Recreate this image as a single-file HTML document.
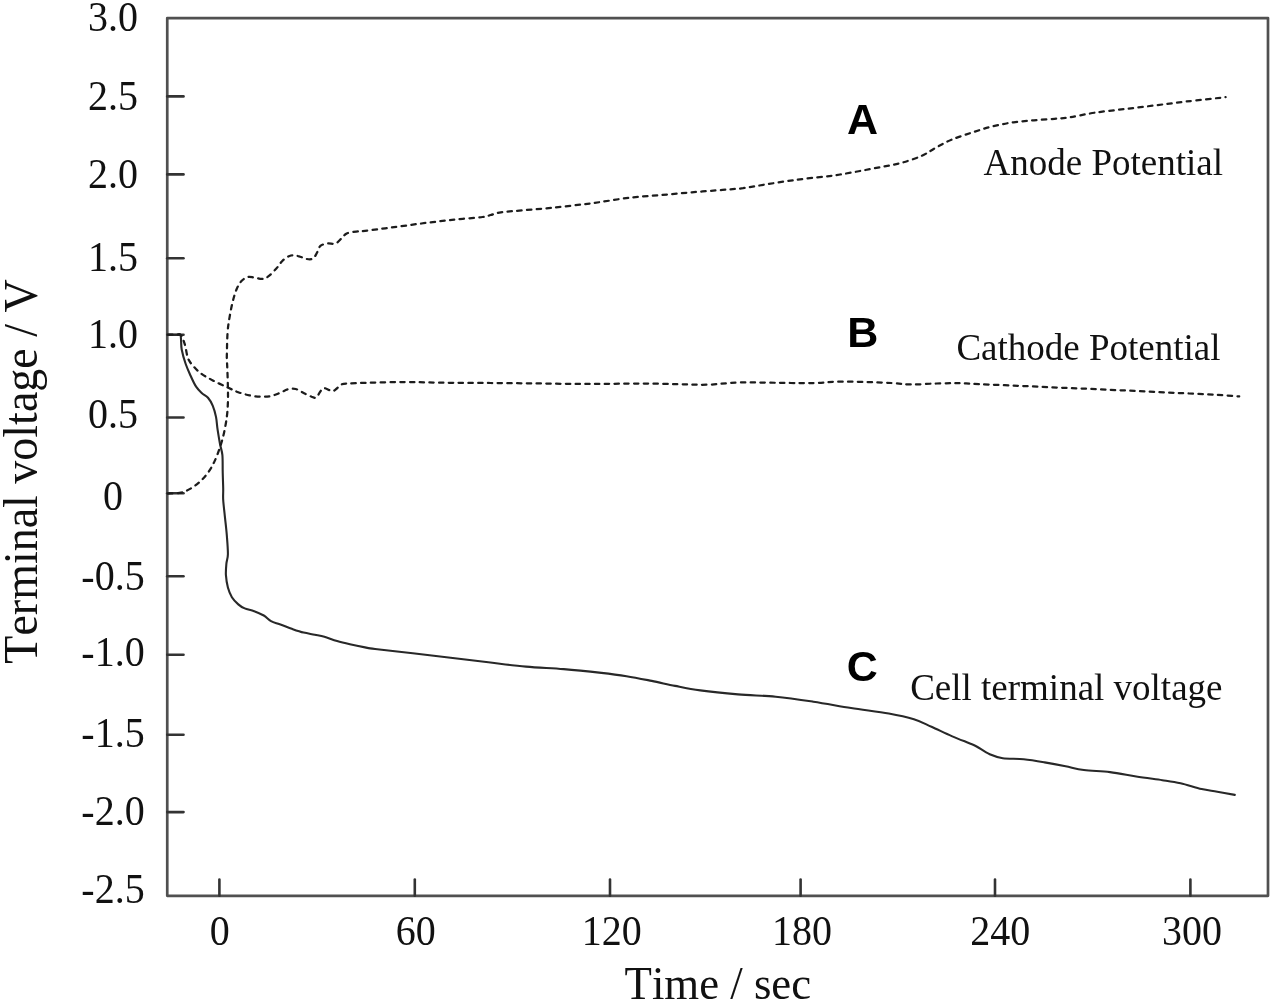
<!DOCTYPE html>
<html lang="en"><head><meta charset="utf-8"><title>Terminal voltage vs time</title>
<style>
html,body{margin:0;padding:0;background:#fff}
svg{display:block;filter:blur(0.6px)}
.t{font-family:"Liberation Serif","Times New Roman",serif;fill:#111;font-kerning:none}
.b{font-family:"Liberation Sans",Arial,sans-serif;font-weight:bold;fill:#000}
</style></head><body>
<svg width="1273" height="1004" viewBox="0 0 1273 1004">
<rect width="1273" height="1004" fill="#fff"/>
<rect x="167.25" y="18.1" width="1100.75" height="877.6999999999999" fill="none" stroke="#505050" stroke-width="2.7" stroke-linejoin="round"/>
<g stroke="#333" stroke-width="2.6" stroke-linecap="round">
<line x1="167.25" y1="96.4" x2="183.5" y2="96.4"/>
<line x1="167.25" y1="174.4" x2="183.5" y2="174.4"/>
<line x1="167.25" y1="258.2" x2="183.5" y2="258.2"/>
<line x1="167.25" y1="334.7" x2="183.5" y2="334.7"/>
<line x1="167.25" y1="417.5" x2="183.5" y2="417.5"/>
<line x1="167.25" y1="493.3" x2="183.5" y2="493.3"/>
<line x1="167.25" y1="576.2" x2="183.5" y2="576.2"/>
<line x1="167.25" y1="654.8" x2="183.5" y2="654.8"/>
<line x1="167.25" y1="734.7" x2="183.5" y2="734.7"/>
<line x1="167.25" y1="812.1" x2="183.5" y2="812.1"/>
<line x1="219.4" y1="895.8" x2="219.4" y2="879.5"/>
<line x1="414.8" y1="895.8" x2="414.8" y2="879.5"/>
<line x1="610" y1="895.8" x2="610" y2="879.5"/>
<line x1="800.6" y1="895.8" x2="800.6" y2="879.5"/>
<line x1="995" y1="895.8" x2="995" y2="879.5"/>
<line x1="1190.4" y1="895.8" x2="1190.4" y2="879.5"/>
</g>
<g class="t" font-size="40" text-anchor="middle">
<text transform="translate(113,31.4) scale(1,1.07)">3.0</text>
<text transform="translate(113,109.7) scale(1,1.07)">2.5</text>
<text transform="translate(113,187.6) scale(1,1.07)">2.0</text>
<text transform="translate(113,271.2) scale(1,1.07)">1.5</text>
<text transform="translate(113,347.6) scale(1,1.07)">1.0</text>
<text transform="translate(113,427.7) scale(1,1.07)">0.5</text>
<text transform="translate(113,509.9) scale(1,1.07)">0</text>
<text transform="translate(113,589.6) scale(1,1.07)">-0.5</text>
<text transform="translate(113,666.3) scale(1,1.07)">-1.0</text>
<text transform="translate(113,747.2) scale(1,1.07)">-1.5</text>
<text transform="translate(113,825.3) scale(1,1.07)">-2.0</text>
<text transform="translate(113,903.2) scale(1,1.07)">-2.5</text>
<text transform="translate(219.8,944.8) scale(1,1.07)">0</text>
<text transform="translate(415.8,944.8) scale(1,1.07)">60</text>
<text transform="translate(611.8,944.8) scale(1,1.07)">120</text>
<text transform="translate(802,944.8) scale(1,1.07)">180</text>
<text transform="translate(1000.3,944.8) scale(1,1.07)">240</text>
<text transform="translate(1192,944.8) scale(1,1.07)">300</text>
</g>
<text class="t" font-size="44.8" text-anchor="middle" transform="translate(717.8,998.6) scale(1,1.05)">Time / sec</text>
<text class="t" font-size="46" text-anchor="middle" transform="translate(36.6,471.5) rotate(-90) scale(1,1.055)">Terminal voltage / V</text>
<path d="M168.0,334.7C169.3,334.7 173.9,334.7 176.0,334.8C178.1,334.9 179.6,332.8 180.5,335.2C181.4,337.6 180.8,344.7 181.7,349.5C182.6,354.3 184.2,359.7 185.7,364.0C187.2,368.3 188.8,371.7 190.5,375.5C192.2,379.3 194.2,383.8 196.1,386.7C198.0,389.6 199.7,391.1 201.7,393.0C203.7,394.9 206.2,395.7 208.0,397.8C209.8,399.9 211.5,402.6 212.8,405.8C214.1,409.0 215.2,412.9 216.0,416.9C216.8,420.9 216.9,425.2 217.6,429.7C218.3,434.2 219.2,439.8 220.0,444.0C220.8,448.2 222.0,450.7 222.4,455.2C222.8,459.7 222.6,465.5 222.7,471.1C222.8,476.7 223.1,483.8 223.2,488.6C223.3,493.4 222.9,495.4 223.2,500.0C223.5,504.6 224.2,510.0 224.8,515.9C225.4,521.8 226.3,528.7 226.8,535.1C227.3,541.5 228.0,549.4 227.9,554.2C227.8,559.0 226.7,560.2 226.4,563.7C226.1,567.2 225.7,570.9 225.9,574.9C226.2,578.9 226.9,583.9 227.9,587.6C228.9,591.3 230.2,594.4 231.9,597.2C233.6,600.0 236.2,602.5 238.3,604.4C240.4,606.3 242.0,607.3 244.7,608.4C247.3,609.5 251.0,610.0 254.2,611.2C257.4,612.4 261.0,613.9 263.8,615.5C266.6,617.1 268.4,619.6 271.0,621.1C273.6,622.6 276.1,623.0 279.7,624.3C283.3,625.6 288.5,627.7 292.5,629.1C296.5,630.5 299.9,631.7 303.6,632.6C307.3,633.5 311.3,634.0 314.8,634.7C318.3,635.4 320.7,635.7 324.4,636.7C328.1,637.8 332.9,639.8 337.1,641.0C341.4,642.2 345.2,643.1 349.9,644.2C354.5,645.3 360.8,646.6 365.0,647.4C369.2,648.2 367.1,648.0 375.1,649.0C383.1,650.0 400.2,651.8 412.8,653.3C425.4,654.8 438.0,656.3 450.6,657.8C463.2,659.3 475.7,660.8 488.3,662.3C500.9,663.8 513.4,665.5 526.0,666.6C538.6,667.7 551.1,668.1 563.7,669.1C576.3,670.1 590.9,671.7 601.4,672.9C611.9,674.1 618.1,674.9 626.5,676.2C634.9,677.5 643.6,679.3 651.7,680.9C659.8,682.5 667.0,684.3 675.1,685.9C683.2,687.5 689.8,689.0 700.3,690.4C710.8,691.8 725.4,693.3 738.0,694.4C750.6,695.5 763.1,695.5 775.7,696.7C788.3,697.9 800.8,699.8 813.4,701.7C826.0,703.6 838.5,706.0 851.1,708.0C863.7,710.0 878.3,711.6 888.8,713.5C899.3,715.4 906.8,717.1 913.9,719.3C921.0,721.5 925.2,724.0 931.5,726.8C937.8,729.6 945.4,733.4 951.7,736.1C958.0,738.8 965.1,741.5 969.3,743.2C973.4,744.9 973.2,744.6 976.6,746.5C980.0,748.4 985.3,752.3 989.7,754.3C994.1,756.2 997.1,757.4 1002.8,758.2C1008.5,759.0 1016.7,758.6 1023.7,759.3C1030.7,760.0 1037.6,761.2 1044.6,762.4C1051.6,763.6 1059.0,765.0 1065.6,766.3C1072.1,767.6 1076.5,769.0 1083.9,770.0C1091.3,771.0 1101.3,771.0 1110.0,772.1C1118.7,773.2 1127.5,775.1 1136.2,776.5C1144.9,777.9 1154.9,779.1 1162.3,780.2C1169.7,781.3 1174.0,781.8 1180.6,783.3C1187.1,784.8 1195.5,787.7 1201.6,789.1C1207.7,790.5 1211.8,790.7 1217.3,791.7C1222.8,792.7 1231.9,794.4 1234.8,794.9" fill="none" stroke="#282828" stroke-width="2.1" stroke-linecap="round" stroke-linejoin="round"/>
<path d="M168.0,334.7C169.3,334.7 173.8,334.7 176.0,334.8C178.2,334.9 179.5,333.6 181.0,335.2C182.5,336.8 183.8,341.2 184.9,344.7C186.0,348.1 186.4,352.9 187.3,355.9C188.2,358.9 188.4,359.9 190.5,362.7C192.6,365.5 196.4,369.9 200.1,372.8C203.8,375.8 208.2,377.9 212.8,380.4C217.4,382.9 223.7,385.6 227.9,387.6C232.2,389.6 234.7,390.9 238.3,392.2C241.9,393.5 245.8,394.6 249.5,395.4C253.2,396.1 257.2,396.6 260.6,396.7C264.1,396.8 267.0,396.8 270.2,396.2C273.4,395.6 276.8,394.1 279.7,393.0C282.6,391.9 285.0,390.1 287.7,389.4C290.4,388.7 293.0,388.4 295.7,389.0C298.4,389.6 301.0,391.7 303.6,393.0C306.2,394.3 309.5,395.9 311.6,396.7C313.7,397.4 314.9,398.4 316.4,397.5C317.9,396.6 319.1,392.9 320.4,391.4C321.7,389.8 322.4,388.2 324.4,388.2C326.4,388.1 330.2,391.1 332.3,391.1C334.4,391.1 335.5,389.3 337.1,388.2C338.7,387.1 340.0,385.1 341.9,384.3C343.8,383.5 344.4,383.7 348.3,383.5C352.2,383.3 355.9,383.1 365.0,382.9C374.1,382.6 390.2,382.0 402.8,382.0C415.4,382.0 425.9,382.5 440.6,382.7C455.3,382.9 474.1,382.9 490.8,383.0C507.6,383.1 524.3,383.3 541.1,383.5C557.9,383.7 574.9,384.0 591.4,384.0C607.9,384.0 625.6,383.5 640.0,383.5C654.4,383.5 666.4,384.0 677.7,384.2C689.0,384.4 697.4,385.0 707.9,384.7C718.4,384.4 726.8,382.8 740.6,382.5C754.4,382.2 778.2,382.9 790.8,383.0C803.4,383.1 808.5,383.2 816.0,383.0C823.5,382.8 827.7,381.9 836.1,381.7C844.5,381.5 857.0,381.8 866.2,382.0C875.4,382.2 883.9,382.6 891.4,383.0C898.9,383.4 904.0,384.4 911.5,384.5C919.0,384.6 928.6,383.7 936.6,383.5C944.6,383.3 952.2,383.1 959.3,383.2C966.4,383.3 969.3,383.8 979.2,384.2C989.1,384.6 1005.4,385.2 1018.5,385.8C1031.6,386.4 1044.6,387.0 1057.7,387.6C1070.8,388.2 1083.8,388.6 1096.9,389.2C1110.0,389.8 1123.1,390.4 1136.2,391.0C1149.3,391.6 1162.3,392.3 1175.4,392.9C1188.5,393.5 1204.1,394.1 1214.7,394.7C1225.3,395.3 1235.1,396.1 1239.2,396.4" fill="none" stroke="#1c1c1c" stroke-width="2.25" stroke-linecap="round" stroke-dasharray="4.4 5.34"/>
<path d="M168.0,493.6C170.2,493.4 177.2,493.4 180.9,492.6C184.7,491.8 187.3,490.5 190.5,488.6C193.7,486.8 197.2,484.1 200.1,481.5C203.0,478.9 205.6,476.0 208.0,472.7C210.4,469.4 212.4,465.9 214.4,461.6C216.4,457.4 218.4,452.0 220.0,447.2C221.6,442.4 222.9,437.9 224.0,432.9C225.1,427.8 226.2,421.9 226.8,416.9C227.5,411.8 227.7,407.5 227.9,402.6C228.1,397.7 228.0,393.7 227.9,387.6C227.8,381.5 227.4,370.9 227.2,365.9C227.0,360.9 226.8,362.9 226.8,357.5C226.9,352.1 227.1,340.2 227.5,333.6C227.9,327.0 228.6,322.9 229.5,317.6C230.4,312.3 231.5,306.5 232.7,301.7C233.9,296.9 235.2,292.4 236.7,289.0C238.2,285.6 239.6,283.0 241.5,281.0C243.4,279.0 245.8,277.6 247.9,277.0C250.0,276.4 251.8,277.2 254.2,277.5C256.6,277.8 259.8,279.1 262.2,278.9C264.6,278.7 266.2,278.0 268.6,276.2C271.0,274.4 274.2,270.8 276.6,268.2C279.0,265.6 280.5,262.4 282.9,260.3C285.3,258.2 288.2,256.2 290.9,255.5C293.6,254.8 296.2,255.7 298.9,256.3C301.5,256.9 304.4,258.6 306.8,259.0C309.2,259.4 311.5,259.5 313.2,258.4C314.9,257.3 316.0,254.4 317.2,252.3C318.4,250.2 318.7,247.4 320.4,245.9C322.1,244.4 325.1,243.9 327.6,243.5C330.1,243.1 333.1,244.4 335.5,243.5C337.9,242.6 340.0,239.7 341.9,238.0C343.8,236.3 344.3,234.6 346.7,233.5C349.1,232.4 353.1,232.0 356.2,231.6C359.2,231.2 359.3,231.5 365.0,230.8C370.7,230.1 381.2,228.8 390.6,227.6C400.0,226.4 411.1,224.8 421.3,223.5C431.5,222.2 441.7,221.0 451.9,219.9C462.1,218.8 476.0,217.8 482.5,217.0C489.0,216.2 487.6,215.8 490.7,215.0C493.8,214.2 495.4,213.1 500.9,212.3C506.3,211.5 514.5,211.1 523.4,210.3C532.2,209.5 543.8,208.6 554.0,207.6C564.2,206.6 577.0,205.0 584.7,204.1C592.4,203.2 592.4,203.2 600.0,202.1C607.6,201.0 620.4,198.8 630.6,197.6C640.8,196.4 651.1,195.9 661.3,195.0C671.5,194.1 681.7,193.2 691.9,192.3C702.1,191.5 714.0,190.6 722.5,189.9C731.0,189.2 736.2,189.0 743.0,188.2C749.8,187.3 754.9,186.2 763.4,184.8C771.9,183.5 783.8,181.5 794.0,180.1C804.2,178.7 817.0,177.5 824.7,176.6C832.4,175.7 834.1,175.4 840.0,174.5C845.9,173.6 853.2,172.2 860.0,171.0C866.8,169.8 873.9,168.3 880.8,167.0C887.7,165.7 894.5,164.8 901.3,162.9C908.1,161.0 915.9,158.4 921.7,155.8C927.5,153.2 930.9,150.3 936.0,147.6C941.1,144.9 946.2,141.9 952.3,139.4C958.4,136.9 966.0,134.5 972.8,132.3C979.6,130.1 986.4,127.9 993.2,126.2C1000.0,124.5 1006.8,123.3 1013.6,122.3C1020.4,121.3 1027.2,120.9 1034.0,120.3C1040.8,119.7 1048.5,119.3 1054.5,118.8C1060.5,118.3 1063.5,118.2 1070.2,117.2C1076.9,116.2 1085.5,114.1 1094.7,112.7C1103.9,111.3 1115.1,110.2 1125.3,109.0C1135.5,107.8 1145.8,106.5 1156.0,105.3C1166.2,104.0 1175.0,102.8 1186.6,101.5C1198.2,100.2 1219.1,97.9 1225.6,97.2" fill="none" stroke="#1c1c1c" stroke-width="2.25" stroke-linecap="round" stroke-dasharray="4.4 5.34"/>
<g class="b" font-size="43" text-anchor="middle">
<text x="862.5" y="134.3">A</text>
<text x="862.7" y="346.5">B</text>
<text x="862.4" y="681.2">C</text>
</g>
<g class="t" font-size="37" text-anchor="end">
<text x="1223" y="174.8">Anode Potential</text>
<text x="1220.5" y="360.2">Cathode Potential</text>
<text x="1222.5" y="699.8">Cell terminal voltage</text>
</g>
</svg></body></html>
